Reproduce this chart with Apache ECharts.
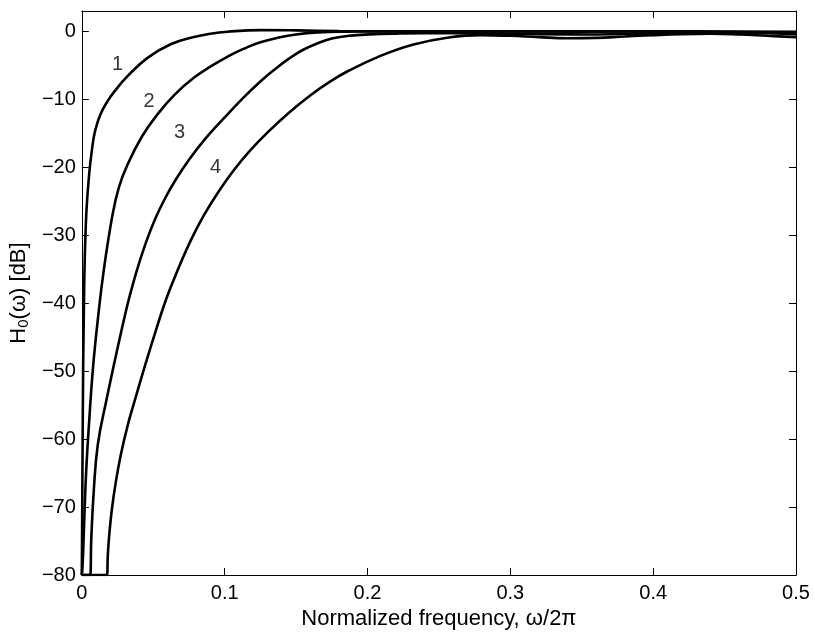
<!DOCTYPE html>
<html><head><meta charset="utf-8">
<script src="https://cdn.jsdelivr.net/npm/echarts@6/dist/echarts.min.js"></script>
<style>html,body{margin:0;padding:0;background:#fff}#c{width:815px;height:635px}</style>
</head><body><div id="c"></div>
<script>
// Curve 1
const f1 = [0, 0.0002, 0.0007, 0.0014, 0.0028, 0.0051, 0.0077, 0.0091, 0.011, 0.0126, 0.0147, 0.018, 0.0226, 0.032, 0.046, 0.0622, 0.0785, 0.09, 0.102, 0.125, 0.15, 0.18, 0.22, 0.3, 0.4, 0.5];
const db1 = [-80, -73.4, -56.1, -41.4, -28.4, -21.1, -16.44, -14.82, -13.39, -12.45, -11.48, -10.27, -8.9, -6.59, -3.9, -1.9, -0.84, -0.35, -0.05, 0.19, 0.15, 0.05, 0, 0, 0, -0.05];
// Curve 2
const f2 = [0, 0.0004, 0.0007, 0.0017, 0.0031, 0.0052, 0.0077, 0.0112, 0.0154, 0.0215, 0.0259, 0.032, 0.042, 0.053, 0.065, 0.0786, 0.09, 0.104, 0.1135, 0.125, 0.138, 0.15, 0.165, 0.185, 0.21, 0.25, 0.3, 0.35, 0.4, 0.45, 0.5];
const db2 = [-80, -80, -77.8, -71.9, -64.5, -57.2, -49.8, -42.4, -35.1, -27.0, -23.0, -19.6, -15.5, -12.2, -9.3, -6.8, -5.2, -3.5, -2.55, -1.6, -0.9, -0.45, -0.15, -0.03, 0, 0, 0, -0.05, 0, -0.1, -0.25];
// Curve 3
const f3 = [0, 0.0058, 0.0066, 0.0084, 0.0112, 0.0168, 0.0306, 0.0378, 0.0448, 0.0517, 0.0587, 0.0657, 0.0748, 0.0855, 0.1, 0.1135, 0.125, 0.135, 0.145, 0.155, 0.165, 0.175, 0.188, 0.202, 0.22, 0.24, 0.28, 0.32, 0.36, 0.4, 0.45, 0.5];
const db3 = [-80, -80, -74.8, -67.5, -60.8, -54.7, -41.4, -35.68, -31.12, -27.43, -24.41, -21.83, -18.96, -16.03, -12.67, -9.68, -7.37, -5.6, -4.0, -2.7, -1.75, -1.06, -0.62, -0.44, -0.33, -0.28, -0.3, -0.4, -0.45, -0.3, -0.15, -0.4];
// Curve 4
const f4 = [0, 0.0175, 0.0182, 0.0192, 0.021, 0.0238, 0.0273, 0.0322, 0.0378, 0.0448, 0.0517, 0.0594, 0.0678, 0.0762, 0.0855, 0.0958, 0.1065, 0.1182, 0.1299, 0.1448, 0.1601, 0.1727, 0.1858, 0.2091, 0.2322, 0.2557, 0.279, 0.3, 0.32, 0.34, 0.36, 0.38, 0.4, 0.42, 0.44, 0.46, 0.48, 0.5];
const db4 = [-80, -80, -77.05, -74.1, -70.4, -66.3, -62.3, -57.9, -53.8, -48.8, -44.1, -39.2, -34.8, -30.8, -27.05, -23.55, -20.4, -17.45, -14.9, -12.0, -9.4, -7.55, -5.9, -3.6, -1.93, -0.94, -0.55, -0.65, -0.85, -1.0, -0.95, -0.75, -0.55, -0.4, -0.35, -0.45, -0.65, -0.85];
// Curve labels
const labelText = ['1', '2', '3', '4'];
const labelF = [0.025, 0.047, 0.0685, 0.0937];
const labelDb = [-4.9, -10.3, -14.9, -20.1];
const xTicks = [0, 0.1, 0.2, 0.3, 0.4, 0.5];
const yTicks = [-80, -70, -60, -50, -40, -30, -20, -10, 0];

const FONT = 'Liberation Sans, Arial, Helvetica, sans-serif';
const fmtNum = v => String(v).replace('-', '\u2212');
const pairs = (f, d) => f.map((x, i) => [x, d[i]]);
const curves = [[f1, db1], [f2, db2], [f3, db3], [f4, db4]];

const chart = echarts.init(document.getElementById('c'), null, {renderer: 'canvas'});
const frame = {show: true, onZero: false, lineStyle: {color: '#000', width: 1}};
const tickIn = {show: true, inside: true, length: 7, lineStyle: {color: '#000', width: 1}};
chart.setOption({
  animation: false,
  backgroundColor: '#fff',
  grid: {left: 81, right: 19, top: 11, bottom: 60},
  xAxis: [
    {type: 'value', min: 0, max: 0.5, interval: 0.1, position: 'bottom',
     axisLine: frame, axisTick: tickIn, splitLine: {show: false},
     axisLabel: {color: '#000', fontSize: 20, fontFamily: FONT, margin: 8,
       formatter: v => xTicks.some(t => Math.abs(t - v) < 1e-9) ? fmtNum(+v.toFixed(1)) : ''},
     name: 'Normalized frequency, \u03c9/2\u03c0', nameLocation: 'middle', nameGap: 31,
     nameTextStyle: {color: '#000', fontSize: 22, fontFamily: FONT, verticalAlign: 'top'}},
    {type: 'value', min: 0, max: 0.5, interval: 0.1, position: 'top',
     axisLine: frame, axisTick: tickIn, axisLabel: {show: false}, splitLine: {show: false}}
  ],
  yAxis: [
    {type: 'value', min: -80, max: 3, interval: 10, position: 'left',
     axisLine: frame, axisTick: tickIn, splitLine: {show: false},
     axisLabel: {color: '#000', fontSize: 20, fontFamily: FONT, margin: 6,
       formatter: v => yTicks.includes(v) ? fmtNum(v) : ''},
     name: '{a|H}{s|0}{a|(\u03c9) [dB]}', nameLocation: 'middle', nameRotate: 90, nameGap: 44,
     nameTextStyle: {rich: {
       a: {color: '#000', fontSize: 22, fontFamily: FONT},
       s: {color: '#000', fontSize: 15, fontFamily: FONT, padding: [9, 0, 0, 0]}}}},
    {type: 'value', min: -80, max: 3, interval: 10, position: 'right',
     axisLine: frame, axisTick: tickIn, axisLabel: {show: false}, splitLine: {show: false}}
  ],
  series: curves.map(([f, d]) => ({
    type: 'line', data: pairs(f, d), showSymbol: false, symbol: 'none', smooth: 0.45,
    lineStyle: {color: '#000', width: 2.6}, clip: true, silent: true
  })).concat([{
    type: 'scatter', symbolSize: 0, silent: true,
    data: labelText.map((t, i) => ({value: [labelF[i], labelDb[i]], name: t})),
    label: {show: true, position: 'inside', formatter: p => p.name,
      color: '#000', fontSize: 20, fontFamily: FONT}
  }])
});
</script></body></html>
